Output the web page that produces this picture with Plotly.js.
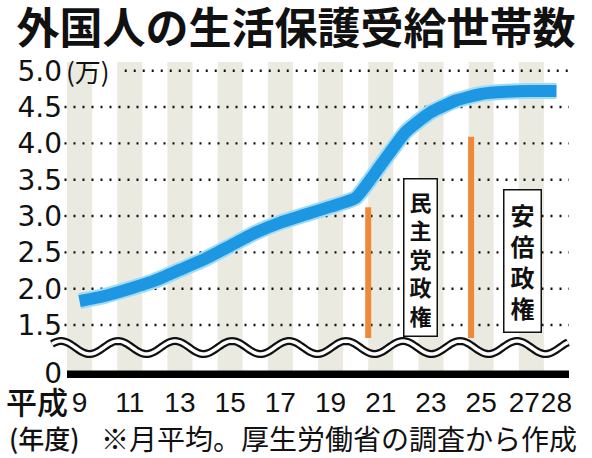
<!DOCTYPE html>
<html>
<head>
<meta charset="utf-8">
<script src="https://cdn.plot.ly/plotly-3.0.1.min.js"></script>
<style>
  html, body { margin: 0; padding: 0; background: #fff; }
  #chart { width: 592px; height: 458px; }
</style>
</head>
<body>
<div id="chart"></div>
<script>
// 平成 fiscal years and monthly average households (万世帯)
const years = [9, 10, 11, 12, 13, 14, 15, 16, 17, 18, 19, 20, 21, 22, 23, 24, 25, 26, 27, 28];
const households = [1.83, 1.90, 2.00, 2.11, 2.26, 2.41, 2.59, 2.77, 2.91, 3.02,
                    3.13, 3.25, 3.70, 4.16, 4.43, 4.59, 4.68, 4.71, 4.72, 4.72];

// start of each government (orange markers), and their heights
const govX = [20.5, 24.6];
const govTop = [3.12, 4.09];
const govBottom = 1.32;

const xTickVals = [9, 11, 13, 15, 17, 19, 21, 23, 25, 27, 28];
const xTickText = ['9', '11', '13', '15', '17', '19', '21', '23', '25', '27\u2002', '28'];
const yTickVals = [1.5, 2.0, 2.5, 3.0, 3.5, 4.0, 4.5, 5.0];

const yBase = 0.84;   // broken axis: the baseline stands for 0
const yTop = 5.12;

const blue = '#1e97e2';
const orange = '#f0883a';

const traces = [
  {
    x: years, y: households, mode: 'lines',
    line: { color: '#9edcf6', width: 16, shape: 'spline', smoothing: 0.5 },
    hoverinfo: 'skip'
  },
  {
    x: years, y: households, mode: 'lines',
    line: { color: blue, width: 12, shape: 'spline', smoothing: 0.5 },
    hoverinfo: 'skip'
  }
];
govX.forEach((gx, i) => {
  traces.push({
    x: [gx, gx], y: [govBottom, govTop[i]], mode: 'lines',
    line: { color: orange, width: 6 },
    hoverinfo: 'skip'
  });
});

// grey stripes behind odd years
const shapes = [];
xTickVals.filter(v => v % 2 === 1).forEach(v => {
  shapes.push({
    type: 'rect', layer: 'below', xref: 'x', yref: 'paper',
    x0: v - 0.5, x1: v + 0.5, y0: 0, y1: 1,
    fillcolor: '#ebeae1', line: { width: 0 }
  });
});

// dotted grid lines; the top one starts after the unit label
yTickVals.forEach(v => {
  shapes.push({
    type: 'line', layer: 'below', xref: 'paper', yref: 'y',
    x0: v === 5.0 ? 0.115 : -0.005, x1: 1, y0: v, y1: v,
    line: { color: '#111', width: 2.4, dash: '2px,7px' }
  });
});

// wavy break mark (pixel geometry converted to paper units)
const plotL = 67, plotW = 502, plotB = 373, plotH = 311;
let wave = '';
for (let px = 52; px <= 569; px += 2) {
  const py = 347.5 - 6.5 * Math.cos(2 * Math.PI * (px - 118) / 57);
  const xp = ((px - plotL) / plotW).toFixed(4);
  const yp = ((plotB - py) / plotH).toFixed(4);
  wave += (wave ? ' L' : 'M') + xp + ',' + yp;
}
shapes.push({ type: 'path', xref: 'paper', yref: 'paper', path: wave,
  line: { color: '#111', width: 8 } });
shapes.push({ type: 'path', xref: 'paper', yref: 'paper', path: wave,
  line: { color: '#fff', width: 3.5 } });

// baseline drawn as a path just like the wave
const baseY = 0.0;
shapes.push({ type: 'path', xref: 'paper', yref: 'paper',
  path: 'M0,' + baseY + ' L1,' + baseY,
  line: { color: '#000', width: 5 } });

const jp = 'Noto Sans CJK JP, sans-serif';

const layout = {
  width: 592, height: 458,
  margin: { l: 67, r: 23, t: 62, b: 85 },
  paper_bgcolor: '#fff', plot_bgcolor: '#fff',
  showlegend: false, hovermode: false,
  title: {
    text: '外国人の生活保護受給世帯数',
    font: { family: jp, size: 43, weight: 700, color: '#111' },
    x: 0.5, xanchor: 'center', y: 0.936, yanchor: 'middle'
  },
  xaxis: {
    range: [8.5, 28.5], fixedrange: true,
    tickmode: 'array', tickvals: xTickVals, ticktext: xTickText, tickangle: 0,
    ticks: '', ticklabelstandoff: 0,
    tickfont: { family: 'Liberation Sans, Arial, sans-serif', size: 28, color: '#111' },
    showgrid: false, zeroline: false,
    showline: true, linecolor: '#000', linewidth: 5, mirror: false
  },
  yaxis: {
    range: [yBase, yTop], fixedrange: true,
    tickmode: 'array',
    tickvals: [yBase].concat(yTickVals),
    ticktext: ['0'].concat(yTickVals.map(v => v.toFixed(1))),
    ticks: '', ticklabelstandoff: 4,
    tickfont: { family: 'DejaVu Sans, sans-serif', size: 28, color: '#111' },
    showgrid: false, zeroline: false, showline: false
  },
  shapes: shapes,
  annotations: [
    { text: '(万)', xref: 'paper', yref: 'y', x: -0.005, y: 5.0, xanchor: 'left', yanchor: 'middle',
      showarrow: false, borderpad: 1,
      font: { family: jp, size: 26, color: '#111' } },
    { text: '民<br>主<br>党<br>政<br>権', xref: 'x', yref: 'y', x: 22.57, y: 2.43,
      xanchor: 'center', yanchor: 'middle', showarrow: false,
      bgcolor: '#fff', bordercolor: '#111', borderwidth: 1.5, borderpad: 5,
      font: { family: jp, size: 22, weight: 700, color: '#111' } },
    { text: '安<br>倍<br>政<br>権', xref: 'x', yref: 'y', x: 26.65, y: 2.375,
      xanchor: 'center', yanchor: 'middle', showarrow: false,
      bgcolor: '#fff', bordercolor: '#111', borderwidth: 1.5, borderpad: 6,
      font: { family: jp, size: 24, weight: 700, color: '#111' } },
    { text: '平成', xref: 'x', yref: 'paper', x: 9, xshift: -10, y: -0.09,
      xanchor: 'right', yanchor: 'middle', showarrow: false,
      font: { family: jp, size: 31, weight: 500, color: '#111' } },
    { text: '(年度)', xref: 'paper', yref: 'paper', x: -0.12, y: -0.208,
      xanchor: 'left', yanchor: 'middle', showarrow: false,
      font: { family: jp, size: 26, weight: 500, color: '#111' } },
    { text: '※月平均。厚生労働省の調査から作成', xref: 'paper', yref: 'paper', x: 1.02, y: -0.208,
      xanchor: 'right', yanchor: 'middle', showarrow: false,
      font: { family: jp, size: 28, weight: 400, color: '#111' } }
  ]
};

Plotly.newPlot('chart', traces, layout, { displayModeBar: false, staticPlot: true });
</script>
</body>
</html>
